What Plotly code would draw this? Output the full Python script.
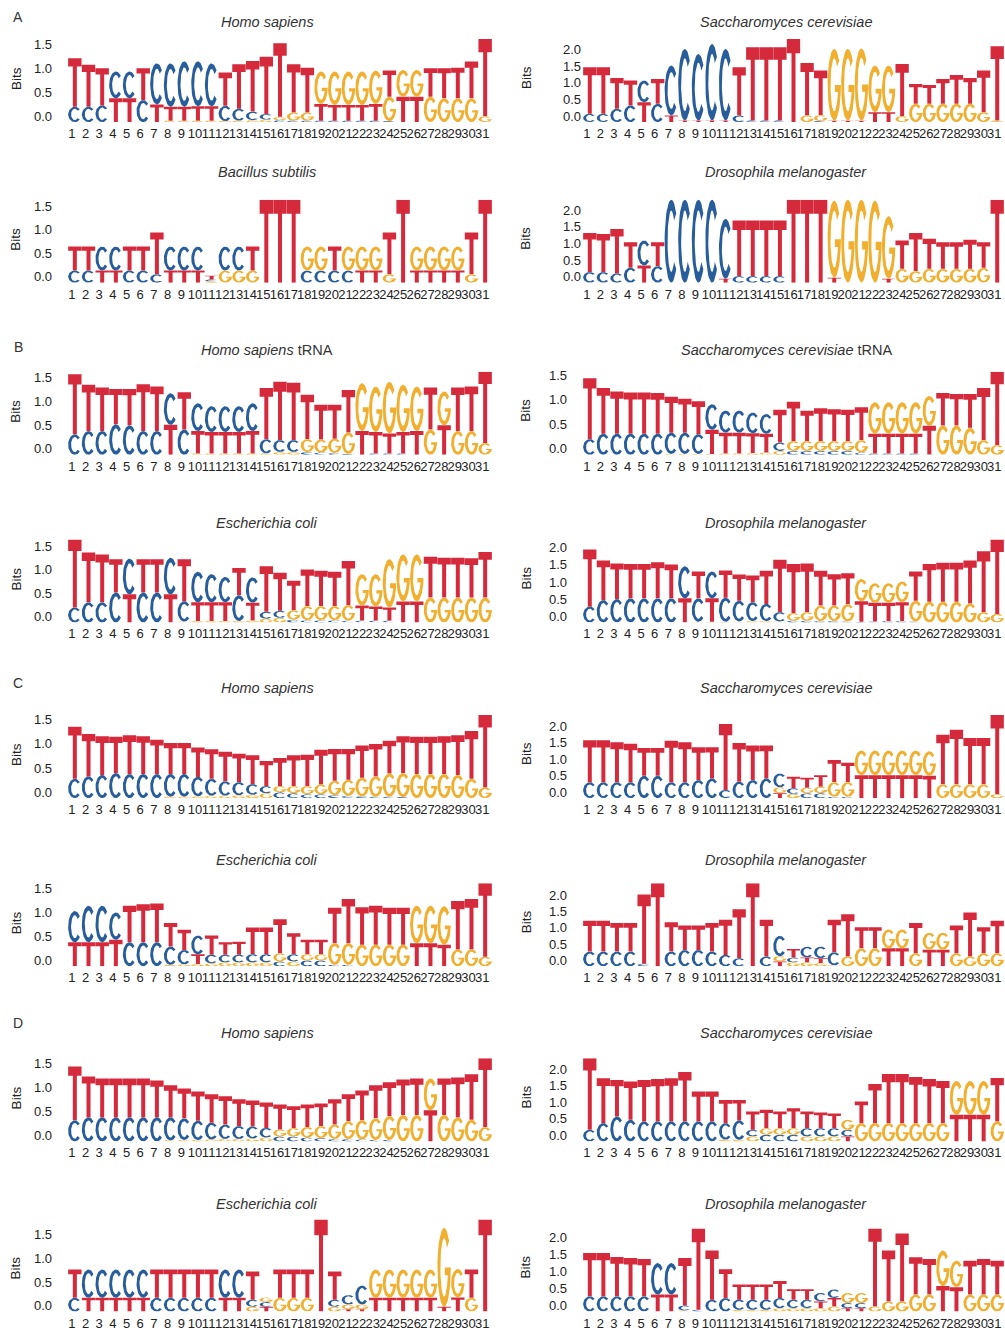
import numpy as np
import plotly.graph_objects as go

W, H = 1005, 1333
POS = list(range(1, 32))

# ---------------- data: bits per letter per position ----------------
A_hs_T = [1.02,0.88,0.78,0.50,0.50,0.67,0.37,0.29,0.29,0.30,0.30,0.70,0.93,1.06,1.20,1.54,1.01,0.94,0.35,0.33,0.33,0.33,0.35,0.55,0.53,0.53,0.60,0.63,0.64,0.77,1.62]
A_hs_C = [0.32,0.32,0.35,0.56,0.56,0.46,0.86,0.91,0.95,0.94,0.90,0.32,0.25,0.18,0.12,0.04,0.03,0.03,0.03,0.03,0.03,0.03,0.03,0.02,0,0,0,0,0,0,0]
A_hs_G = [0,0,0,0,0,0,0,0.03,0.03,0.03,0.03,0.02,0.03,0.04,0.05,0.07,0.17,0.17,0.68,0.70,0.70,0.70,0.70,0.51,0.56,0.56,0.53,0.50,0.50,0.50,0.12]

A_sc_T = [1.40,1.40,0.93,0.75,0.60,0.75,0.20,0.05,0.05,0.05,0.05,1.45,2.20,2.20,2.20,2.50,1.58,1.34,0.04,0.04,0.04,0.30,0.30,1.57,0.60,0.57,0.75,0.87,0.78,1.25,2.23]
A_sc_C = [0.25,0.25,0.40,0.50,0.65,0.55,1.50,2.15,2.00,2.30,2.15,0.20,0.05,0.05,0.05,0,0,0.03,0,0,0,0,0,0,0,0,0,0,0,0,0]
A_sc_G = [0,0,0,0,0,0,0,0,0,0,0,0,0,0,0,0,0.20,0.18,2.16,2.16,2.18,1.40,1.40,0.18,0.55,0.55,0.55,0.55,0.55,0.30,0.05]

A_bs_T = [0.51,0.51,0.26,0.26,0.51,0.51,0.89,0.26,0.26,0.26,0.08,0,0,0.51,1.77,1.77,1.77,0,0,0.51,0,0.26,0.26,0.89,1.77,0.26,0.26,0.26,0.26,0.89,1.77]
A_bs_C = [0.26,0.26,0.51,0.51,0.26,0.26,0.18,0.51,0.51,0.51,0.04,0.51,0.51,0,0,0,0,0.26,0.26,0.26,0.26,0,0,0,0,0,0,0,0,0,0]
A_bs_G = [0,0,0,0,0,0,0,0,0,0,0.03,0.26,0.26,0.26,0,0,0,0.51,0.51,0,0.51,0.51,0.51,0.18,0,0.51,0.51,0.51,0.51,0.18,0]

A_dm_T = [1.18,1.15,1.34,0.77,0.52,0.72,0,0,0,0,0.12,1.67,1.67,1.67,1.67,2.50,2.50,2.50,0.15,0,0,0,0.12,0.85,1.15,0.90,0.80,0.80,0.87,0.77,2.50]
A_dm_C = [0.32,0.32,0.28,0.45,0.75,0.50,2.50,2.50,2.50,2.50,1.80,0.20,0.20,0.20,0.20,0,0,0,0,0,0,0,0,0,0,0,0,0,0,0,0]
A_dm_G = [0,0,0,0,0,0,0,0,0,0,0,0,0,0,0,0,0,0,2.32,2.50,2.50,2.47,1.88,0.42,0.35,0.42,0.42,0.42,0.42,0.45,0]

B_hs_T = [1.26,0.97,0.91,0.74,0.76,0.98,0.93,0.63,0.78,0.47,0.45,0.45,0.45,0.47,1.07,1.22,1.20,0.93,0.73,0.71,0.89,0.50,0.45,0.42,0.45,0.50,0.88,0.62,0.91,0.93,1.49]
B_hs_C = [0.43,0.50,0.50,0.64,0.62,0.50,0.50,0.66,0.53,0.58,0.54,0.54,0.54,0.58,0.30,0.25,0.25,0.06,0.05,0.04,0.02,0,0.03,0.03,0.03,0,0,0,0,0,0]
B_hs_G = [0,0,0,0,0,0,0,0,0,0.03,0.03,0.03,0.03,0.03,0.03,0.06,0.06,0.27,0.27,0.30,0.45,1.00,0.95,1.08,0.99,0.93,0.53,0.71,0.50,0.50,0.25]

B_sc_T = [1.24,0.93,0.86,0.84,0.84,0.83,0.73,0.69,0.67,0.49,0.42,0.42,0.40,0.38,0.67,0.80,0.62,0.67,0.65,0.64,0.67,0.40,0.40,0.40,0.40,0.58,0.66,0.64,0.69,1.06,1.49]
B_sc_C = [0.32,0.43,0.43,0.43,0.43,0.43,0.43,0.43,0.40,0.52,0.45,0.45,0.42,0.40,0.17,0.08,0.08,0.08,0.08,0.08,0.05,0.03,0.03,0.03,0.03,0.01,0,0,0,0,0]
B_sc_G = [0,0,0,0,0,0,0.02,0.02,0.02,0.02,0.03,0.03,0.04,0.05,0.08,0.20,0.20,0.20,0.20,0.20,0.25,0.64,0.64,0.64,0.64,0.61,0.60,0.60,0.55,0.30,0.20]

B_ec_T = [1.45,1.06,1.02,0.71,0.60,0.71,0.71,0.60,0.90,0.40,0.40,0.40,0.58,0.38,0.97,0.81,0.63,0.78,0.75,0.73,0.94,0.32,0.30,0.28,0.45,0.45,0.87,0.85,0.85,0.84,0.97]
B_ec_C = [0.32,0.43,0.43,0.64,0.76,0.64,0.64,0.78,0.43,0.65,0.60,0.54,0.55,0.54,0.15,0.15,0.06,0.05,0.05,0.05,0.04,0.04,0.04,0.04,0,0,0,0,0,0,0]
B_ec_G = [0,0,0,0,0,0,0,0,0.02,0.03,0.03,0.03,0.03,0.04,0.08,0.10,0.20,0.30,0.30,0.30,0.33,0.67,0.69,1.03,1.00,1.00,0.53,0.53,0.53,0.53,0.53]

B_dm_T = [1.66,1.15,1.03,1.00,1.00,1.05,0.98,0.70,0.78,0.68,0.79,0.76,0.77,0.96,1.52,1.43,1.41,1.01,0.91,0.90,0.60,0.54,0.53,0.55,0.85,1.10,1.13,1.13,1.25,1.77,2.16]
B_dm_C = [0.46,0.65,0.68,0.70,0.70,0.70,0.70,0.93,0.68,0.78,0.70,0.60,0.55,0.50,0.27,0.05,0.05,0.04,0.04,0.03,0.02,0.03,0.04,0.04,0.03,0,0,0,0,0,0]
B_dm_G = [0,0,0,0,0,0,0,0,0.02,0.02,0.02,0.03,0.04,0.04,0.03,0.22,0.25,0.45,0.45,0.50,0.64,0.57,0.57,0.60,0.60,0.60,0.60,0.60,0.55,0.30,0.25]

C_hs_T = [1.08,0.88,0.80,0.75,0.80,0.78,0.71,0.64,0.64,0.61,0.61,0.61,0.59,0.60,0.52,0.58,0.64,0.65,0.72,0.66,0.64,0.67,0.67,0.68,0.76,0.77,0.77,0.78,0.82,0.99,1.50]
C_hs_C = [0.40,0.45,0.48,0.52,0.50,0.50,0.50,0.47,0.47,0.40,0.35,0.30,0.27,0.22,0.15,0.12,0.10,0.08,0.08,0.06,0.05,0.04,0.03,0.03,0.02,0,0,0,0,0,0]
C_hs_G = [0,0,0,0,0,0,0,0.03,0.03,0.04,0.05,0.05,0.06,0.07,0.10,0.13,0.15,0.17,0.20,0.30,0.33,0.38,0.42,0.48,0.50,0.50,0.50,0.50,0.48,0.40,0.22]

C_sc_T = [1.28,1.28,1.22,1.18,0.85,0.85,1.27,1.22,1.00,0.95,2.01,1.18,1.05,1.00,0.15,0.35,0.30,0.35,0.67,0.59,0.70,0.70,0.70,0.70,0.70,0.68,1.51,1.66,1.41,1.41,2.41]
C_sc_C = [0.48,0.48,0.48,0.48,0.68,0.68,0.48,0.48,0.55,0.60,0.25,0.50,0.55,0.60,0.42,0.17,0.15,0.15,0.04,0.04,0,0,0,0,0,0,0,0,0,0,0]
C_sc_G = [0,0,0,0,0,0,0,0,0,0,0,0,0,0,0.18,0.13,0.17,0.20,0.45,0.45,0.75,0.75,0.75,0.75,0.75,0.75,0.42,0.42,0.42,0.42,0.12]

C_ec_T = [0.50,0.50,0.50,0.55,0.76,0.79,0.81,0.49,0.42,0.20,0.40,0.26,0.27,0.56,0.56,0.71,0.44,0.30,0.30,0.74,0.92,0.78,0.81,0.77,0.77,0.48,0.48,0.45,1.01,1.05,1.53]
C_ec_C = [0.65,0.76,0.76,0.57,0.50,0.50,0.50,0.38,0.30,0.39,0.18,0.16,0.16,0.17,0.17,0.10,0.15,0.12,0.12,0.03,0.03,0,0,0,0,0,0,0,0,0,0]
C_ec_G = [0,0,0,0,0,0,0,0.03,0.04,0.05,0.06,0.08,0.08,0.08,0.08,0.17,0.10,0.13,0.13,0.45,0.45,0.45,0.45,0.45,0.45,0.78,0.78,0.80,0.35,0.35,0.20]

C_dm_T = [0.95,0.95,0.88,0.88,2.12,2.55,0.90,0.75,0.75,0.88,1.08,1.50,2.55,1.13,0.15,0.26,0.15,0.15,1.00,1.30,0.65,0.65,0.55,0.55,0.93,0.51,0.51,0.85,1.35,0.80,1.00]
C_dm_C = [0.45,0.45,0.45,0.45,0.08,0,0.45,0.50,0.50,0.45,0.35,0.25,0,0.30,0.62,0.15,0.33,0.35,0.40,0,0,0,0,0,0,0,0,0,0,0,0]
C_dm_G = [0,0,0,0,0,0,0,0,0,0,0,0,0,0,0.16,0.12,0.12,0.10,0.03,0.30,0.55,0.55,0.58,0.58,0.40,0.52,0.52,0.40,0.30,0.40,0.40]

D_hs_T = [1.12,0.85,0.81,0.81,0.81,0.81,0.77,0.67,0.62,0.61,0.59,0.59,0.56,0.54,0.53,0.52,0.45,0.47,0.47,0.53,0.56,0.62,0.69,0.70,0.74,0.76,0.65,0.76,0.83,0.95,1.43]
D_hs_C = [0.44,0.50,0.50,0.50,0.50,0.50,0.50,0.48,0.45,0.40,0.35,0.30,0.27,0.25,0.20,0.10,0.10,0.08,0.07,0.05,0.05,0.04,0.03,0.03,0,0,0,0,0,0,0]
D_hs_G = [0,0,0,0,0,0,0,0.02,0.03,0.03,0.04,0.05,0.05,0.06,0.08,0.15,0.18,0.22,0.25,0.30,0.37,0.40,0.45,0.50,0.55,0.55,0.66,0.55,0.50,0.45,0.30]

D_sc_T = [2.15,1.35,1.10,1.15,1.25,1.28,1.30,1.49,0.90,0.90,0.70,0.62,0.55,0.55,0.50,0.60,0.50,0.47,0.44,0.15,0.65,1.18,1.48,1.48,1.39,1.33,1.27,0.80,0.80,0.80,1.31]
D_sc_C = [0.35,0.55,0.75,0.65,0.60,0.60,0.60,0.60,0.60,0.60,0.50,0.58,0.20,0.20,0.20,0.20,0.25,0.25,0.25,0.20,0,0,0,0,0,0,0,0,0,0,0]
D_sc_G = [0,0,0,0,0,0,0,0,0,0,0.05,0.05,0.15,0.20,0.20,0.20,0.15,0.15,0.15,0.30,0.55,0.55,0.55,0.55,0.55,0.55,0.55,1.02,1.02,1.02,0.60]

D_ec_T = [0.60,0.29,0.29,0.29,0.29,0.29,0.60,0.60,0.60,0.60,0.60,0.29,0.29,0.60,0.10,0.60,0.60,0.60,1.95,0.60,0.05,0.05,0.29,0.29,0.29,0.29,0.29,0.10,0.30,0.60,1.95]
D_ec_C = [0.29,0.60,0.60,0.60,0.60,0.60,0.29,0.29,0.29,0.29,0.29,0.60,0.60,0.15,0.10,0,0,0,0,0.15,0.20,0.40,0,0,0,0,0,0,0,0,0]
D_ec_G = [0,0,0,0,0,0,0,0,0,0,0,0,0,0.10,0.10,0.29,0.29,0.29,0,0.10,0.10,0.10,0.60,0.60,0.60,0.60,0.60,1.67,0.60,0.29,0]

D_dm_T = [1.28,1.28,1.16,1.13,1.10,0.50,0.50,1.40,2.40,1.45,0.85,0.45,0.45,0.45,0.50,0.31,0.31,0.20,0.25,0.10,0.10,2.30,1.50,2.00,1.10,1.05,0.75,0.72,1.00,1.05,1.00]
D_dm_C = [0.45,0.45,0.45,0.45,0.45,0.93,0.93,0.15,0.05,0.35,0.40,0.30,0.30,0.30,0.30,0.25,0.25,0.25,0.25,0.15,0.15,0,0,0,0,0,0,0,0,0,0]
D_dm_G = [0,0,0,0,0,0,0,0.03,0,0,0,0.05,0.05,0.05,0.10,0.10,0.10,0.10,0.15,0.30,0.30,0.15,0.30,0.30,0.50,0.50,1.05,0.78,0.50,0.50,0.50]

TITLES = ["<i>Homo sapiens</i>", "<i>Saccharomyces cerevisiae</i>",
          "<i>Bacillus subtilis</i>", "<i>Drosophila melanogaster</i>",
          "<i>Homo sapiens</i> tRNA", "<i>Saccharomyces cerevisiae</i> tRNA",
          "<i>Escherichia coli</i>", "<i>Drosophila melanogaster</i>",
          "<i>Homo sapiens</i>", "<i>Saccharomyces cerevisiae</i>",
          "<i>Escherichia coli</i>", "<i>Drosophila melanogaster</i>",
          "<i>Homo sapiens</i>", "<i>Saccharomyces cerevisiae</i>",
          "<i>Escherichia coli</i>", "<i>Drosophila melanogaster</i>"]
SECTIONS = ["A", "B", "C", "D"]

PANELS = [
    (A_hs_T, A_hs_C, A_hs_G), (A_sc_T, A_sc_C, A_sc_G),
    (A_bs_T, A_bs_C, A_bs_G), (A_dm_T, A_dm_C, A_dm_G),
    (B_hs_T, B_hs_C, B_hs_G), (B_sc_T, B_sc_C, B_sc_G),
    (B_ec_T, B_ec_C, B_ec_G), (B_dm_T, B_dm_C, B_dm_G),
    (C_hs_T, C_hs_C, C_hs_G), (C_sc_T, C_sc_C, C_sc_G),
    (C_ec_T, C_ec_C, C_ec_G), (C_dm_T, C_dm_C, C_dm_G),
    (D_hs_T, D_hs_C, D_hs_G), (D_sc_T, D_sc_C, D_sc_G),
    (D_ec_T, D_ec_C, D_ec_G), (D_dm_T, D_dm_C, D_dm_G),
]

# ---------------- style / geometry ----------------
COLORS = {"T": "#d52a3c", "C": "#275d9b", "G": "#f1af2f"}
FONT = "Liberation Sans, Arial, sans-serif"
ROW_BOTTOM = [122.5, 283, 455, 622.5, 798, 966, 1141, 1311]
ROW_TITLE = [22, 172, 350, 523, 688, 860, 1033, 1204]
LOGO_H = [83] * 14 + [92, 83]
COL_X = [(68, 492), (583, 1004)]
BITS_X = [16, 526]
TITLE_X = [267, 786]
SECTION_Y = [17, 347, 683, 1023]
SECTION_X = 18
# small vertical correction for how the page is captured
Y_SCALE, Y_OFF = 0.9947, 4.5


def py(y_px):
    """target pixel row -> paper fraction"""
    return 1 - ((y_px - Y_OFF) / Y_SCALE) / H


def glyph(letter):
    if letter == "T":
        bh, sw = 0.17, 0.30
        pts = [(0, 1), (1, 1), (1, 1 - bh), (0.5 + sw / 2, 1 - bh), (0.5 + sw / 2, 0),
               (0.5 - sw / 2, 0), (0.5 - sw / 2, 1 - bh), (0, 1 - bh)]
        return pts
    rxi, ryi = 0.28, 0.37
    if letter == "C":
        a = np.radians(np.linspace(42, 318, 40))
        outer = [(0.5 + 0.5 * np.cos(t), 0.5 + 0.5 * np.sin(t)) for t in a]
        inner = [(0.5 + rxi * np.cos(t), 0.5 + ryi * np.sin(t)) for t in a[::-1]]
        return outer + inner
    # G
    a = np.radians(np.linspace(42, 360, 44))
    outer = [(0.5 + 0.5 * np.cos(t), 0.5 + 0.5 * np.sin(t)) for t in a]
    bar = [(1.0, 0.50), (0.55, 0.50), (0.55, 0.40), (0.78, 0.40)]
    b = np.radians(np.linspace(342, 42, 40))
    inner = [(0.5 + rxi * np.cos(t), 0.5 + ryi * np.sin(t)) for t in b]
    return outer + bar + inner


GLYPHS = {L: glyph(L) for L in "TCG"}

fig = go.Figure()
layout = {}
annotations = []

for p, (tv, cv, gv) in enumerate(PANELS):
    r, c = divmod(p, 2)
    n = p + 1
    xa = "x" if n == 1 else f"x{n}"
    ya = "y" if n == 1 else f"y{n}"
    xs = {L: [] for L in "TCG"}
    ys = {L: [] for L in "TCG"}
    totals = []
    for i, pos in enumerate(POS):
        hts = [("T", tv[i]), ("C", cv[i]), ("G", gv[i])]
        hts.sort(key=lambda e: e[1])
        base = 0.0
        for L, h in hts:
            if h > 0.004:
                for (u, v) in GLYPHS[L]:
                    xs[L].append(pos - 0.49 + 0.98 * u)
                    ys[L].append(base + v * h)
                xs[L].append(None)
                ys[L].append(None)
            base += h
        totals.append(base)
    ymax = max(totals)
    for L in "TCG":
        fig.add_trace(go.Scatter(x=xs[L], y=ys[L], mode="lines", fill="toself",
                                 fillcolor=COLORS[L], line=dict(width=0, color=COLORS[L]),
                                 hoverinfo="skip", showlegend=False, xaxis=xa, yaxis=ya))
    x0, x1 = COL_X[c]
    yb = ROW_BOTTOM[r]
    yt = yb - LOGO_H[p]
    tickv = [k * 0.5 for k in range(0, int(min(ymax, 2.0) / 0.5 + 1e-9) + 1)]
    standoff = 1 if (c == 1 and r < 2) else 15
    layout["xaxis" if n == 1 else f"xaxis{n}"] = dict(
        domain=[x0 / W, x1 / W], range=[0.5, 31.5], anchor=ya,
        tickmode="array", tickvals=POS, ticktext=[str(v) for v in POS],
        tickangle=0, tickfont=dict(size=13, color="#222", family=FONT),
        showgrid=False, zeroline=False, showline=False, ticks="",
        ticklabelstandoff=2, ticklabelshift=-3, fixedrange=True)
    layout["yaxis" if n == 1 else f"yaxis{n}"] = dict(
        domain=[py(yb), py(yt)], range=[0, ymax], anchor=xa,
        tickmode="array", tickvals=tickv, ticktext=[f"{v:.1f}" for v in tickv],
        tickfont=dict(size=13, color="#222", family=FONT),
        showgrid=False, zeroline=False, showline=False, ticks="",
        ticklabelshift=-6, ticklabelstandoff=standoff, fixedrange=True)
    annotations.append(dict(text="Bits", x=BITS_X[c] / W, y=py(yb - 44),
                            xref="paper", yref="paper", showarrow=False, textangle=-90,
                            xanchor="center", yanchor="middle",
                            font=dict(size=13.5, color="#222", family=FONT)))
    annotations.append(dict(text=TITLES[p], x=TITLE_X[c] / W, y=py(ROW_TITLE[r]),
                            xref="paper", yref="paper", showarrow=False,
                            xanchor="center", yanchor="middle",
                            font=dict(size=14.5, color="#333", family=FONT)))

for k, s in enumerate(SECTIONS):
    annotations.append(dict(text=s, x=SECTION_X / W, y=py(SECTION_Y[k]),
                            xref="paper", yref="paper", showarrow=False,
                            xanchor="center", yanchor="middle",
                            font=dict(size=14, color="#333", family=FONT)))

fig.update_layout(width=W, height=H, autosize=False,
                  margin=dict(l=0, r=0, t=0, b=0),
                  paper_bgcolor="white", plot_bgcolor="white",
                  font=dict(family=FONT), annotations=annotations, **layout)

fig.write_html("out.html", config={"displayModeBar": False},
               post_script="document.body.style.margin='0px';document.body.style.overflow='hidden';")
